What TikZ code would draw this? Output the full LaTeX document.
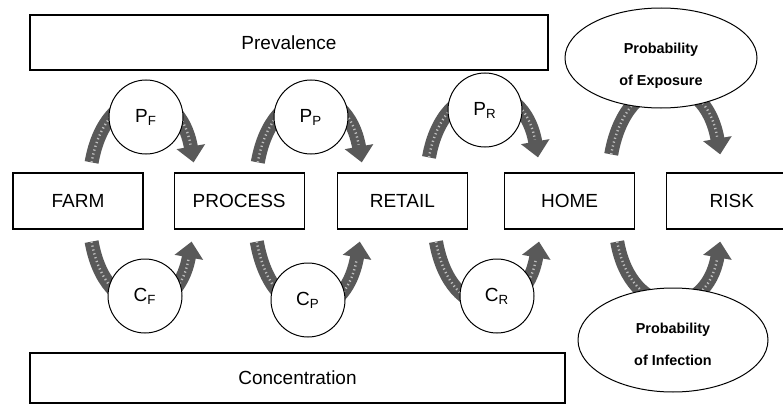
\documentclass[tikz,border=0pt]{standalone}
\usepackage{fontspec}
\setmainfont{Liberation Sans}
\usetikzlibrary{arrows.meta,positioning,shapes.geometric}

\tikzset{
  stage/.style={draw, line width=0.6pt, minimum width=65pt, minimum height=28pt,
    font=\fontsize{9.5}{11}\selectfont},
  band/.style={draw, line width=0.6pt, font=\fontsize{9.5}{11}\selectfont},
  prob/.style={circle, draw, fill=white, line width=0.5pt, minimum size=37pt,
    inner sep=0pt, font=\fontsize{9.5}{11}\selectfont},
  outcome/.style={ellipse, draw, fill=white, line width=0.5pt, inner sep=0pt},
  outtext/.style={align=center, inner sep=0pt, font=\fontsize{7.2}{16}\selectfont\bfseries},
  flow/.style={draw=black!65, line width=7pt, -{Triangle[width=14pt,length=8pt]},
    postaction={draw=white!75!black, line width=1.2pt, dash pattern=on 0.6pt off 1.4pt,
      arrows=-, shorten >=9pt}},
}

\begin{document}
\begin{tikzpicture}[x=0.5pt,y=0.5pt]
    \useasboundingbox (0,0) rectangle (783,-407);
    \fill[white] (0,0) rectangle (783,-407);
    \clip (0,0) rectangle (783,-407);

    % stages
    \node[stage] (farm) at (78,-201) {FARM};
    \node[stage, right=15pt of farm] (process) {PROCESS};
    \node[stage, right=16pt of process] (retail) {RETAIL};
    \node[stage, right=18pt of retail] (home) {HOME};
    \node[stage, right=15.5pt of home] (risk) {RISK};

    \node[band, minimum width=259pt, minimum height=27.5pt] (prev) at (289,-42.5) {Prevalence};
    \node[band, minimum width=267.5pt, minimum height=25pt] (conc) at (297.5,-378) {Concentration};

    % prevalence arrows
    \draw[flow] ([xshift=-26pt,yshift=5pt]farm.north east)
      to[out=80,in=100,looseness=2.1] ([xshift=10pt,yshift=5pt]process.north west);
    \draw[flow] ([xshift=-23.5pt,yshift=5pt]process.north east)
      to[out=80,in=100,looseness=2.1] ([xshift=12.5pt,yshift=5pt]retail.north west);
    \draw[flow] ([xshift=-19.5pt,yshift=7.5pt]retail.north east)
      to[out=80,in=100,looseness=2.0] ([xshift=17pt,yshift=7.5pt]home.north west);
    \draw[flow] ([xshift=-12pt,yshift=9pt]home.north east)
      to[out=80,in=100,looseness=2.1] ([xshift=27pt,yshift=9pt]risk.north west);

    % concentration arrows
    \draw[flow] ([xshift=-26pt,yshift=-6pt]farm.south east)
      to[out=-80,in=-100,looseness=2.1] ([xshift=9pt,yshift=-6pt]process.south west);
    \draw[flow] ([xshift=-24pt,yshift=-6pt]process.south east)
      to[out=-80,in=-100,looseness=2.2] ([xshift=11.5pt,yshift=-6pt]retail.south west);
    \draw[flow] ([xshift=-16pt,yshift=-6pt]retail.south east)
      to[out=-80,in=-100,looseness=2.1] ([xshift=17.5pt,yshift=-6pt]home.south west);
    \draw[flow] ([xshift=-9pt,yshift=-6pt]home.south east)
      to[out=-80,in=-100,looseness=2.0] ([xshift=27pt,yshift=-6pt]risk.south west);

    % probabilities
    \node[prob] (pf) at (146,-117) {P\textsubscript{F}};
    \node[prob] (pp) at (311,-117) {P\textsubscript{P}};
    \node[prob] (pr) at (485,-110) {P\textsubscript{R}};
    \node[prob] (cf) at (145,-296) {C\textsubscript{F}};
    \node[prob] (cp) at (308,-300) {C\textsubscript{P}};
    \node[prob] (cr) at (497,-296) {C\textsubscript{R}};

    \node[outcome, minimum width=96pt, minimum height=50pt] (expo) at (661,-58) {};
    \node[outtext] (expotext) at ([yshift=-4pt]expo.center) {Probability\\of Exposure};
    \node[outcome, minimum width=95pt, minimum height=52pt] (infect) at (673,-340) {};
    \node[outtext] (infecttext) at ([yshift=-2pt]infect.center) {Probability\\of Infection};
\end{tikzpicture}
\end{document}
